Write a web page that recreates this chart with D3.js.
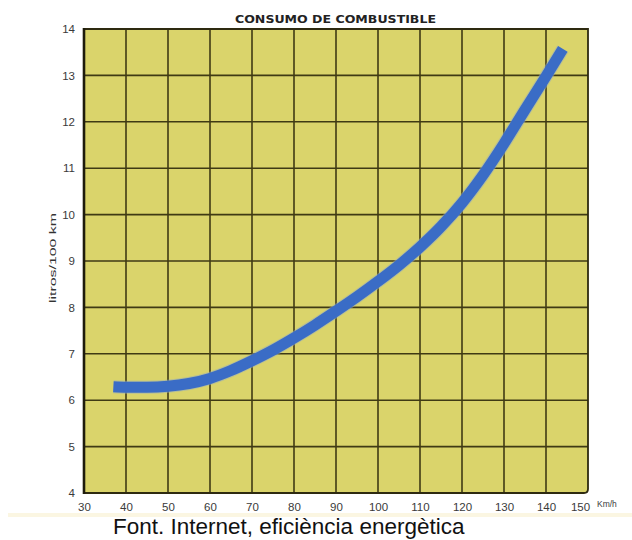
<!DOCTYPE html>
<html>
<head>
<meta charset="utf-8">
<script src="https://cdn.jsdelivr.net/npm/d3@7/dist/d3.min.js"></script>
<style>
  html, body { margin: 0; padding: 0; background: #ffffff; }
  svg { display: block; }
</style>
</head>
<body>
<svg id="chart" width="632" height="540"></svg>
<script>
// Fuel consumption (litres / 100 km) against speed (km/h)
const speeds = [37, 40, 45, 50, 55, 60, 65, 70, 75, 80, 85, 90, 95, 100, 105, 110, 115, 120, 125, 130, 135, 140, 144];
const consumption = [6.29, 6.28, 6.28, 6.30, 6.36, 6.47, 6.64, 6.85, 7.08, 7.34, 7.62, 7.92, 8.23, 8.56, 8.91, 9.30, 9.74, 10.25, 10.85, 11.53, 12.26, 12.98, 13.57];
const xTicks = [30, 40, 50, 60, 70, 80, 90, 100, 110, 120, 130, 140, 150];
const yTicks = [4, 5, 6, 7, 8, 9, 10, 11, 12, 13, 14];

const titleText = "CONSUMO DE COMBUSTIBLE";
const yTitle = "litros/100 km";
const xUnit = "Km/h";
const caption = "Font. Internet, eficiència energètica";

const svg = d3.select("#chart");
const plotL = 84, plotR = 588, plotT = 29, plotB = 493;

const x = d3.scaleLinear().domain([30, 150]).range([plotL, plotR]);
const y = d3.scaleLinear().domain([4, 14]).range([plotB, plotT]);

// pale band under the axis labels
svg.append("rect").attr("x", 8).attr("y", 513).attr("width", 624).attr("height", 4)
  .attr("fill", "#fbf6e2");

const framePath = `M${plotL},${plotT} H${plotR} V${plotB - 4} Q${plotR},${plotB} ${plotR - 4},${plotB} H${plotL} Z`;

// plot background with a slightly rounded lower-right corner
svg.append("path").attr("d", framePath).attr("fill", "#dad46b");

// grid
const grid = svg.append("g").attr("stroke", "#3f3a14").attr("stroke-width", 1.6);
grid.selectAll("line.v").data(xTicks.slice(1, -1)).join("line")
  .attr("x1", d => x(d)).attr("x2", d => x(d))
  .attr("y1", plotT).attr("y2", plotB);
grid.selectAll("line.h").data(yTicks.slice(1, -1)).join("line")
  .attr("x1", plotL).attr("x2", plotR)
  .attr("y1", d => y(d)).attr("y2", d => y(d));

// frame
svg.append("path").attr("d", framePath)
  .attr("fill", "none").attr("stroke", "#2e2a10").attr("stroke-width", 1.8);
svg.append("line").attr("x1", plotL).attr("x2", plotL).attr("y1", plotT - 1).attr("y2", plotB + 1)
  .attr("stroke", "#1e1c0c").attr("stroke-width", 2.6);

// axes (labels only; the grid provides the rules)
const xAxis = d3.axisBottom(x).tickValues(xTicks).tickSize(0).tickPadding(10);
const gx = svg.append("g").attr("transform", `translate(0,${plotB})`).call(xAxis);
gx.select(".domain").remove();
gx.selectAll("text").attr("font-family", "Liberation Sans, Arial, sans-serif")
  .attr("font-size", 11.5).attr("fill", "#3a3a3a");
// the last label is nudged left to leave room for the unit
gx.selectAll(".tick").filter(d => d === 150).select("text").attr("dx", -8);

const yAxis = d3.axisLeft(y).tickValues(yTicks).tickSize(0).tickPadding(9);
const gy = svg.append("g").attr("transform", `translate(${plotL},0)`).call(yAxis);
gy.select(".domain").remove();
gy.selectAll("text").attr("font-family", "Liberation Sans, Arial, sans-serif")
  .attr("font-size", 11.5).attr("fill", "#3a3a3a");

// unit after the last x label
svg.append("text").attr("x", 597).attr("y", 507)
  .attr("font-family", "Liberation Sans, Arial, sans-serif").attr("font-size", 8.5)
  .attr("fill", "#3a3a3a").text(xUnit);

// title
svg.append("text").attr("x", 235).attr("y", 23)
  .attr("font-family", "DejaVu Sans, sans-serif").attr("font-weight", "bold")
  .attr("font-size", 10.5).attr("fill", "#222")
  .attr("textLength", 201).attr("lengthAdjust", "spacingAndGlyphs")
  .text(titleText);

// y-axis title
svg.append("text")
  .attr("transform", "translate(56,258) rotate(-90)")
  .attr("text-anchor", "middle")
  .attr("font-family", "Liberation Sans, Arial, sans-serif").attr("font-size", 9.5)
  .attr("fill", "#333").attr("textLength", 90).attr("lengthAdjust", "spacingAndGlyphs")
  .text(yTitle);

// consumption curve
const line = d3.line()
  .x((d, i) => x(speeds[i]))
  .y(d => y(d))
  .curve(d3.curveMonotoneX);
svg.append("path").datum(consumption)
  .attr("d", line)
  .attr("fill", "none").attr("stroke", "#8fa8c8").attr("stroke-width", 13)
  .attr("stroke-opacity", 0.5);
svg.append("path").datum(consumption)
  .attr("d", line)
  .attr("fill", "none").attr("stroke", "#3a6cc6").attr("stroke-width", 11);

// source caption
svg.append("text").attr("x", 113).attr("y", 534)
  .attr("font-family", "Liberation Sans, Arial, sans-serif").attr("font-size", 22.5)
  .attr("fill", "#111").text(caption);
</script>
</body>
</html>
